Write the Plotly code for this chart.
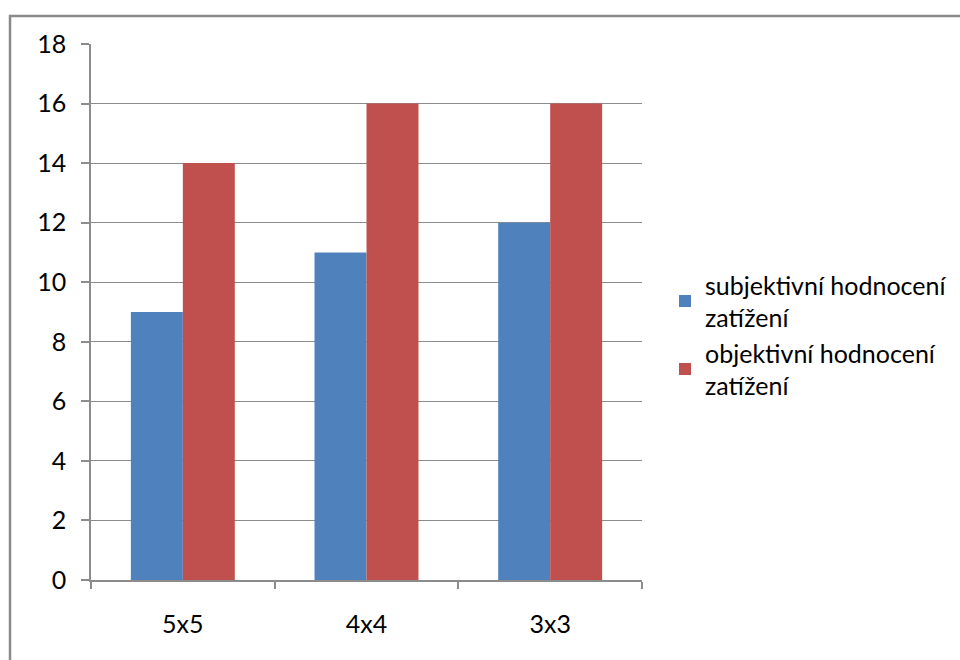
import plotly.graph_objects as go

categories = ["5x5", "4x4", "3x3"]
subjektivni = [9, 11, 12]
objektivni = [14, 16, 16]
series_names = ["subjektivní hodnocení<br>zatížení", "objektivní hodnocení<br>zatížení"]
y_ticks = list(range(0, 19, 2))

FONT = "Lato"
FS = 25
GRID = "#8c8c8c"

fig = go.Figure()
fig.add_trace(go.Bar(x=categories, y=subjektivni, name=series_names[0],
                     marker=dict(color="#4F81BD", line=dict(width=0))))
fig.add_trace(go.Bar(x=categories, y=objektivni, name=series_names[1],
                     marker=dict(color="#C0504D", line=dict(width=0))))

L, R, T, B = 91, 318, 44, 80
W, H = 960, 660
pw = W - L - R
ph = H - T - B

def px_x(p):
    return (p - L) / pw

def px_y(p):
    return (H - B - p) / ph

fig.update_layout(
    width=W, height=H,
    margin=dict(l=L, r=R, t=T, b=B, pad=0, autoexpand=False),
    paper_bgcolor="white", plot_bgcolor="white",
    barmode="group", bargap=0.434, bargroupgap=0,
    font=dict(family=FONT, size=FS, color="#000000"),
    showlegend=True,
    legend=dict(x=px_x(665), y=px_y(262), xanchor="left", yanchor="top",
                font=dict(family=FONT, size=FS, color="#000000"),
                tracegroupgap=0, itemwidth=30,
                bgcolor="rgba(0,0,0,0)"),
    shapes=[dict(type="rect", xref="paper", yref="paper",
                 x0=px_x(10), x1=px_x(975), y0=px_y(675), y1=px_y(16),
                 line=dict(color="#8a8a8a", width=2.5), layer="below")],
)

fig.update_yaxes(range=[0, 18], tickvals=y_ticks, showgrid=True, gridcolor=GRID,
                 gridwidth=1, showline=True, linecolor=GRID, linewidth=1.5,
                 ticks="outside", ticklen=8, tickcolor=GRID, tickwidth=1.5,
                 ticklabelstandoff=10, zeroline=False,
                 tickfont=dict(family=FONT, size=FS, color="#000000"))
fig.update_xaxes(showline=True, linecolor=GRID, linewidth=1.5, ticks="outside",
                 tickson="boundaries", ticklen=7, tickcolor=GRID, tickwidth=1.5,
                 ticklabelstandoff=21, showgrid=False, mirror=False,
                 tickfont=dict(family=FONT, size=FS, color="#000000"))

fig.write_html("out.html")
